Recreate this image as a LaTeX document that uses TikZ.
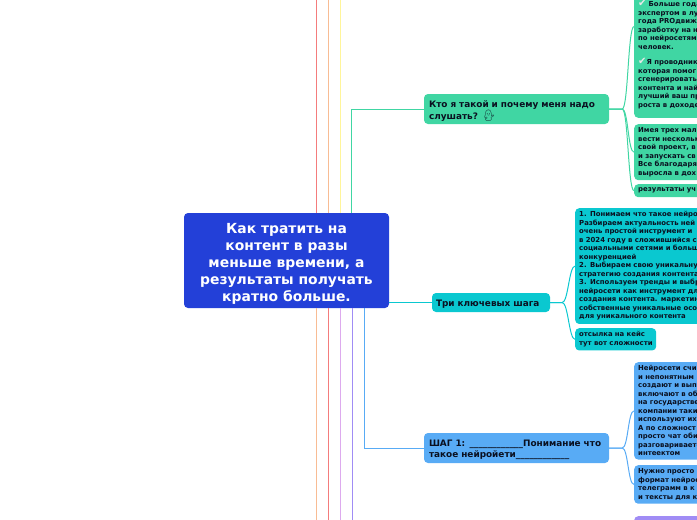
\documentclass[tikz,border=0pt]{standalone}
\usepackage{fontspec}
\usepackage{xcolor}
\usepackage{tikz}
\setmainfont{DejaVu Sans}
\newfontfamily\emofont{Noto Emoji}
\usetikzlibrary{calc,positioning}
\definecolor{rootc}{HTML}{2340D8}
\definecolor{grnc}{HTML}{40D6A3}
\definecolor{cync}{HTML}{0AC8D0}
\definecolor{bluc}{HTML}{58ABF5}
\definecolor{purc}{HTML}{A08CF5}
\definecolor{redc}{HTML}{F47C7C}
\definecolor{orac}{HTML}{F8BC94}
\definecolor{yelc}{HTML}{FFF59A}
\definecolor{pnkc}{HTML}{DDAAEE}
\definecolor{inkc}{HTML}{0A1020}
\tikzset{
  rootbox/.style={fill=rootc,text=white,rounded corners=4pt,align=center,minimum width=205pt,minimum height=95pt,inner sep=0pt,font=\fontsize{13.9}{17}\selectfont\bfseries},
  mainbox/.style={rounded corners=4pt,text=inkc,align=left,inner xsep=5pt,inner ysep=0pt,font=\fontsize{8.9}{11}\selectfont\bfseries},
  kidbox/.style={rounded corners=4pt,text=inkc,anchor=north west,inner xsep=4pt,inner ysep=3.5pt,text width=90pt,align=left,font=\fontsize{6.9}{8.5}\selectfont\bfseries},
  ln/.style={line width=1pt}
}
\newcommand{\okmark}[1]{\makebox[#1][l]{\fontsize{10}{8.5}\selectfont\color{gray!18}✔}}
\begin{document}
\begin{tikzpicture}[x=1pt,y=-1pt]
\useasboundingbox (0,0) rectangle (697,520);
\clip (0,0) rectangle (697,520);
% free ends of the branches that leave the picture
\coordinate (upa) at (316,-5);
\coordinate (upb) at (328,-5);
\coordinate (upc) at (340,-5);
\coordinate (dna) at (316,525);
\coordinate (dnb) at (328,525);
\coordinate (dnc) at (340,525);
\coordinate (dnd) at (352,525);
% main
\node[rootbox] (root) at (286.5,260.5) {\rule{0pt}{16.5pt}Как тратить на\\контент в разы\\меньше времени, а\\результаты получать\\кратно больше.};
\node[mainbox,fill=grnc,minimum width=185pt,minimum height=30pt,text width=175pt] (who) at (516.5,109) {\rule{0pt}{11pt}Кто я такой и почему меня надо\\слушать? {\emofont\fontsize{11}{11}\selectfont 💁‍♂️}};
\node[mainbox,fill=cync,inner xsep=4pt,text width=110pt,minimum height=19pt] (three) at (491,302.5) {\rule{0pt}{9pt}Три ключевых шага};
\node[mainbox,fill=bluc,minimum width=185pt,minimum height=30pt,text width=175pt] (one) at (516.5,448) {\rule{0pt}{11pt}ШАГ 1: \_\_\_\_\_\_\_\_\_\_\_\_Понимание что\\такое нейройети\_\_\_\_\_\_\_\_\_\_\_\_};
% children
\node[kidbox,anchor=south west,fill=grnc] (whoa) at (634,118) {\rule{0pt}{68pt}\okmark{10.5pt}Больше года\\экспертом в лу\\года PROдвиж\\заработку на н\\по нейросетям\\человек.\\[7.1pt]\okmark{8.5pt}Я проводник\\которая помог\\сгенерировать\\контента и най\\лучший ваш пр\\роста в доходе\rule[-7pt]{0pt}{0pt}};
\node[kidbox,fill=grnc] (whob) at (634,124) {Имея трех мал\\вести нескольк\\свой проект, в\\и запускать св\\Все благодаря\\выросла в дох};
\node[kidbox,fill=grnc,inner ysep=1.5pt,minimum height=13pt] (whoc) at (634,184) {результаты уч};
\node[kidbox,fill=cync,text width=130pt] (threea) at (575,208) {1. Понимаем что такое нейро\\Разбираем актуальность ней\\очень простой инструмент и\\в 2024 году в сложившийся с\\социальными сетями и больш\\конкуренцией\\2. Выбираем свою уникальну\\стратегию создания контента\\3. Используем тренды и выбр\\нейросети как инструмент дл\\создания контента. маркетин\\собственные уникальные осо\\для уникального контента};
\node[kidbox,fill=cync,text width=73pt] (threeb) at (575,328) {отсылка на кейс\\\mbox{тут вот сложности}};
\node[kidbox,fill=bluc] (onea) at (634,362) {Нейросети счи\\и непонятным\\создают и вып\\включают в об\\на государстве\\компании таки\\используют их\\А по сложност\\просто чат оби\\разговариваете\\интеектом};
\node[kidbox,fill=bluc] (oneb) at (634,465) {Нужно просто\\формат нейрос\\телеграмм в к\\и тексты для к};
\node[kidbox,fill=purc,minimum height=30pt] (two) at (634,516) {};
% branches from the main node
\draw[ln,redc] (root.north -| upa) -- (upa);
\draw[ln,orac] (root.north -| upb) -- (upb);
\draw[ln,yelc] (root.north -| upc) -- (upc);
\draw[ln,orac] (root.south -| dna) -- (dna);
\draw[ln,redc] (root.south -| dnb) -- (dnb);
\draw[ln,pnkc] (root.south -| dnc) -- (dnc);
\draw[ln,purc] (root.south -| dnd) -- (dnd);
\draw[ln,grnc] ($(root.north west)+(168,0)$) |- (who.west);
\draw[ln,cync] (root.east |- three) -- (three.west);
\draw[ln,bluc] ($(root.south west)+(181,0)$) |- (one.west);
% branches to the children
\foreach \kid in {whoa,whob,whoc}
  \draw[ln,grnc] (who.east) -- ++(13,0) .. controls +(6,0) and +(-6,0) .. (\kid.west);
\foreach \kid in {threea,threeb}
  \draw[ln,cync] (three.east) -- ++(12,0) .. controls +(6,0) and +(-6,0) .. (\kid.west);
\foreach \kid in {onea,oneb}
  \draw[ln,bluc] (one.east) -- ++(13,0) .. controls +(6,0) and +(-6,0) .. (\kid.west);
\end{tikzpicture}
\end{document}
